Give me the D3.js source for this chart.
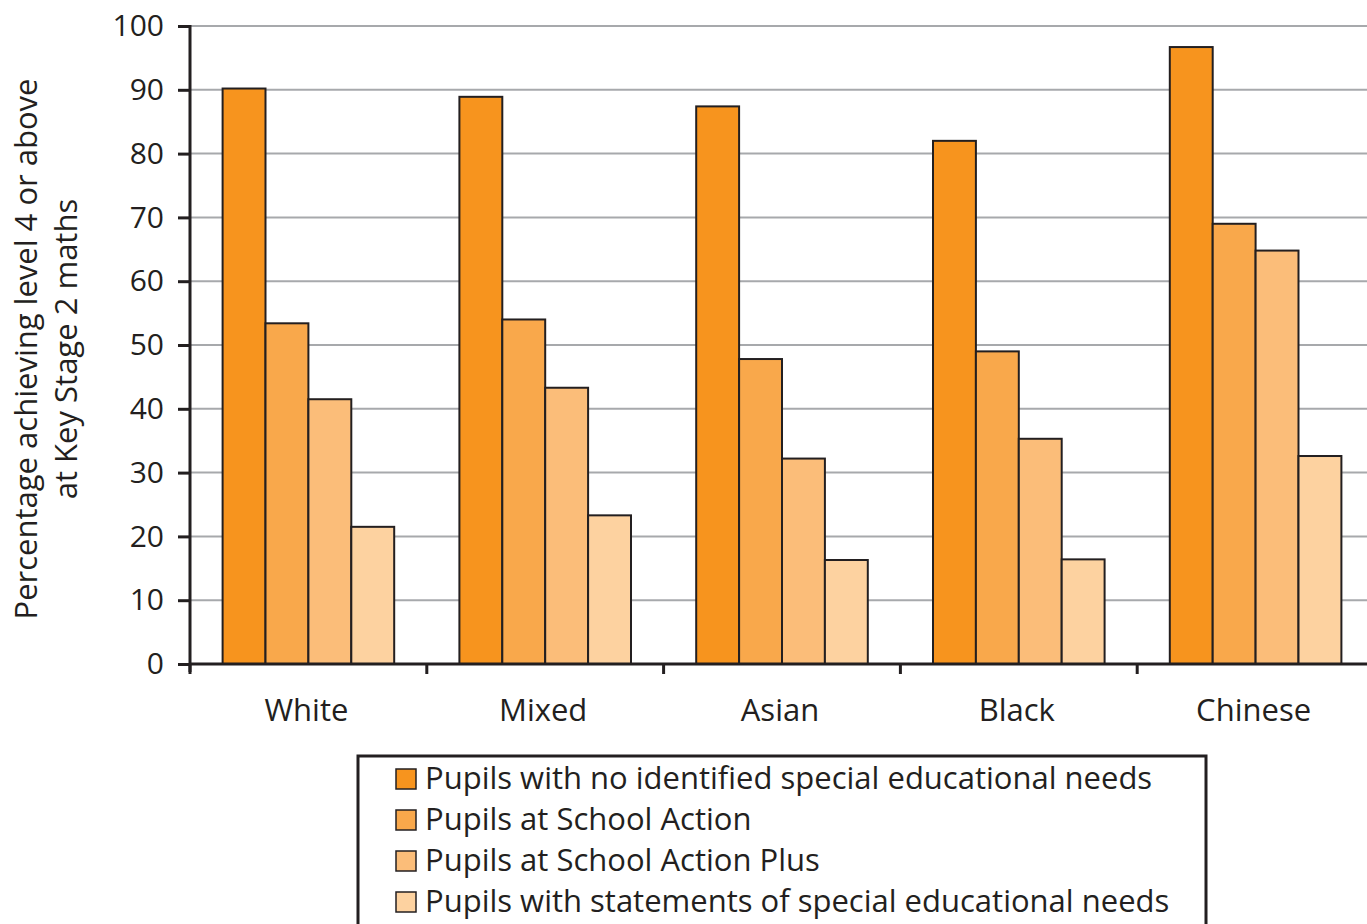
<!DOCTYPE html>
<html>
<head>
<meta charset="utf-8">
<script src="https://cdn.jsdelivr.net/npm/d3@7/dist/d3.min.js"></script>
<style>
  html, body { margin: 0; padding: 0; background: #fff; }
  svg { display: block; font-family: "Open Sans", "Noto Sans", sans-serif; }
</style>
</head>
<body>
<svg id="chart" width="1367" height="924"></svg>
<script>
// Key Stage 2 maths attainment by ethnic group and SEN status
const categories = ["White", "Mixed", "Asian", "Black", "Chinese"];
const seriesNames = [
  "Pupils with no identified special educational needs",
  "Pupils at School Action",
  "Pupils at School Action Plus",
  "Pupils with statements of special educational needs"
];
const noSEN        = [90.2, 88.9, 87.4, 82.0, 96.7];
const schoolAction = [53.4, 54.0, 47.8, 49.0, 69.0];
const actionPlus   = [41.5, 43.3, 32.2, 35.3, 64.8];
const statements   = [21.5, 23.3, 16.3, 16.4, 32.6];
const yTicks = [0, 10, 20, 30, 40, 50, 60, 70, 80, 90, 100];
const colors = ["#F7941E", "#F9A84B", "#FBBD79", "#FDD2A0"];

const seriesValues = [noSEN, schoolAction, actionPlus, statements];

const svg = d3.select("#chart");
const ink = "#231f20";

const plotLeft = 190, plotRight = 1374, plotTop = 26, plotBottom = 664;

const x0 = d3.scaleBand().domain(categories).range([plotLeft, plotRight]).paddingInner(0).paddingOuter(0);
const x1 = d3.scaleBand().domain(d3.range(seriesNames.length))
  .range([0, x0.bandwidth()]).paddingOuter(0.76).paddingInner(0);
const y = d3.scaleLinear().domain([0, 100]).range([plotBottom, plotTop]);

// gridlines
svg.append("g").selectAll("line").data(yTicks.filter(d => d > 0)).join("line")
  .attr("x1", plotLeft).attr("x2", 1367)
  .attr("y1", d => y(d)).attr("y2", d => y(d))
  .attr("stroke", "#a7a9ac").attr("stroke-width", 2);

// bars
const groups = svg.append("g").selectAll("g").data(categories).join("g")
  .attr("transform", d => `translate(${x0(d)},0)`);
groups.selectAll("rect")
  .data((c, ci) => seriesValues.map((vals, si) => ({ si, v: vals[ci] })))
  .join("rect")
  .attr("x", d => x1(d.si))
  .attr("width", x1.bandwidth())
  .attr("y", d => y(d.v))
  .attr("height", d => y(0) - y(d.v))
  .attr("fill", d => colors[d.si])
  .attr("stroke", ink).attr("stroke-width", 2);

// y axis
const yAxis = d3.axisLeft(y).tickValues(yTicks).tickSize(12).tickPadding(14).tickSizeOuter(0);
const gy = svg.append("g").attr("transform", `translate(${plotLeft},0)`).call(yAxis);
gy.select(".domain").attr("stroke", ink).attr("stroke-width", 3).attr("d", `M0,${plotTop - 1}V${plotBottom + 8}`);
gy.selectAll(".tick line").attr("stroke", ink).attr("stroke-width", 3);
gy.selectAll(".tick text").attr("fill", ink).attr("font-size", 30).attr("font-family", "'Open Sans', sans-serif");

// x axis
const xAxisG = svg.append("g");
xAxisG.append("line").attr("x1", plotLeft).attr("x2", 1367).attr("y1", plotBottom).attr("y2", plotBottom)
  .attr("stroke", ink).attr("stroke-width", 3);
xAxisG.selectAll("line.tk").data(categories).join("line").attr("class", "tk")
  .attr("x1", d => x0(d)).attr("x2", d => x0(d))
  .attr("y1", plotBottom).attr("y2", plotBottom + 10)
  .attr("stroke", ink).attr("stroke-width", 3);
xAxisG.selectAll("text").data(categories).join("text")
  .attr("x", d => x0(d) + x0.bandwidth() * 0.5 - 2)
  .attr("y", 721)
  .attr("text-anchor", "middle")
  .attr("font-size", 31).attr("fill", ink)
  .text(d => d);

// y-axis title
const yTitle = svg.append("text")
  .attr("transform", "translate(0,349) rotate(-90)")
  .attr("text-anchor", "middle").attr("font-size", 31).attr("fill", ink);
yTitle.append("tspan").attr("x", 0).attr("y", 37).text("Percentage achieving level 4 or above");
yTitle.append("tspan").attr("x", 0).attr("y", 77).text("at Key Stage 2 maths");

// legend
const legend = svg.append("g");
legend.append("rect").attr("x", 358).attr("y", 756).attr("width", 848).attr("height", 180)
  .attr("fill", "#fff").attr("stroke", ink).attr("stroke-width", 3);
const items = legend.selectAll("g").data(seriesNames).join("g")
  .attr("transform", (d, i) => `translate(396,${769 + i * 41})`);
items.append("rect").attr("width", 20).attr("height", 20)
  .attr("fill", (d, i) => colors[i]).attr("stroke", ink).attr("stroke-width", 1.5);
items.append("text").attr("x", 29).attr("y", 20)
  .attr("font-size", 31).attr("fill", ink).text(d => d);
</script>
</body>
</html>
